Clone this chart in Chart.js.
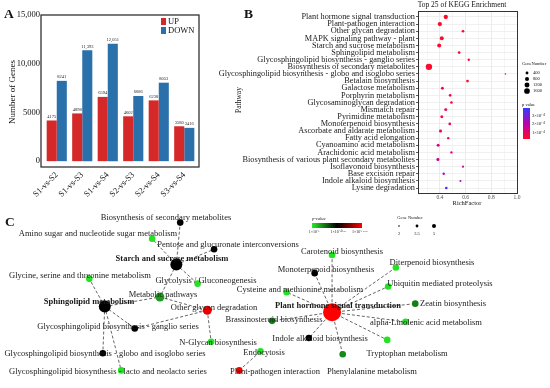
<!DOCTYPE html>
<html>
<head>
<meta charset="utf-8">
<script src="https://cdn.jsdelivr.net/npm/chart.js@4.4.1/dist/chart.umd.min.js"></script>
<style>
  html, body { margin: 0; padding: 0; background: #fff; }
  #wrap { position: relative; width: 550px; height: 388px; overflow: hidden; }
  canvas { position: absolute; left: 0; top: 0; }
</style>
</head>
<body>
<div id="wrap">
  <canvas id="chartC" width="550" height="388"></canvas>
  <canvas id="chartA" width="550" height="388"></canvas>
  <canvas id="chartB" width="550" height="388"></canvas>
</div>
<script>
// ---------- Panel A data ----------
const comparisons = ['S1-vs-S2', 'S1-vs-S3', 'S1-vs-S4', 'S2-vs-S3', 'S2-vs-S4', 'S3-vs-S4'];
const upGenes = [4175, 4898, 6594, 4602, 6238, 3580];
const downGenes = [8241, 11393, 12051, 6686, 8053, 3416];
const geneTicks = [0, 5000, 10000, 15000];

// ---------- Panel B data ----------
const pathways = [
  'Plant hormone signal transduction',
  'Plant-pathogen interaction',
  'Other glycan degradation',
  'MAPK signaling pathway - plant',
  'Starch and sucrose metabolism',
  'Sphingolipid metabolism',
  'Glycosphingolipid biosynthesis - ganglio series',
  'Biosynthesis of secondary metabolites',
  'Glycosphingolipid biosynthesis - globo and isoglobo series',
  'Betalain biosynthesis',
  'Galactose metabolism',
  'Porphyrin metabolism',
  'Glycosaminoglycan degradation',
  'Mismatch repair',
  'Pyrimidine metabolism',
  'Monoterpenoid biosynthesis',
  'Ascorbate and aldarate metabolism',
  'Fatty acid elongation',
  'Cyanoamino acid metabolism',
  'Arachidonic acid metabolism',
  'Biosynthesis of various plant secondary metabolites',
  'Isoflavonoid biosynthesis',
  'Base excision repair',
  'Indole alkaloid biosynthesis',
  'Lysine degradation'
];
const richFactor = [0.446, 0.40, 0.58, 0.415, 0.395, 0.55, 0.625, 0.315, 0.91, 0.615, 0.42, 0.48, 0.49,
  0.446, 0.415, 0.477, 0.405, 0.465, 0.387, 0.49, 0.385, 0.58, 0.43, 0.56, 0.45];
const geneNumber = [900, 900, 350, 780, 780, 350, 270, 2000, 135, 350, 440, 350, 350,
  440, 440, 350, 440, 270, 440, 270, 440, 200, 270, 200, 350];
const pValue = [0.3, 0.3, 0.35, 0.35, 0.35, 0.4, 0.45, 0.3, 0.5, 0.5, 0.55, 0.6, 0.5,
  0.75, 0.7, 1.05, 1.0, 1.2, 1.35, 1.35, 1.7, 1.9, 2.2, 2.4, 3.6]; // x 1e-4
const richTicks = [0.3, 0.4, 0.5, 0.6, 0.7, 0.8, 0.9, 1.0];
const geneLegend = [400, 800, 1200, 1600];

// ---------- Panel C data ----------
const nodeNames = [
  'Biosynthesis of secondary metabolites',
  'Amino sugar and nucleotide sugar metabolism',
  'Pentose and glucuronate interconversions',
  'Starch and sucrose metabolism',
  'Glycine, serine and threonine metabolism',
  'Glycolysis / Gluconeogenesis',
  'Metabolic pathways',
  'Sphingolipid metabolism',
  'Other glycan degradation',
  'Glycosphingolipid biosynthesis - ganglio series',
  'N-Glycan biosynthesis',
  'Glycosphingolipid biosynthesis - globo and isoglobo series',
  'Glycosphingolipid biosynthesis - lacto and neolacto series',
  'Endocytosis',
  'Plant-pathogen interaction',
  'Brassinosteroid biosynthesis',
  'Plant hormone signal transduction',
  'Carotenoid biosynthesis',
  'Monoterpenoid biosynthesis',
  'Cysteine and methionine metabolism',
  'Diterpenoid biosynthesis',
  'Ubiquitin mediated proteolysis',
  'Zeatin biosynthesis',
  'alpha-Linolenic acid metabolism',
  'Indole alkaloid biosynthesis',
  'Tryptophan metabolism',
  'Phenylalanine metabolism'
];
const nodeLogP = [10.33, 6.2, 10.33, 10.33, 6.2, 6.2, 7.4, 10.33, 14.3, 10.33, 6.2, 10.33, 6.2,
  6.2, 14.5, 8.0, 14.66, 6.2, 10.33, 6.2, 6.2, 6.2, 8.0, 6.2, 10.33, 6.2, 7.8]; // -log10 p
const nodeGenes = [2.2, 2.2, 2.2, 4, 2.2, 2.2, 3, 4, 3, 2.2, 2.2, 2.2, 2.2,
  2.2, 2.2, 2.2, 6, 2.2, 2.2, 2.2, 2.2, 2.2, 2.2, 2.2, 2.2, 2.2, 2.2];
const hubNodes = [3, 7, 16];
const edges = [[3, 0], [3, 1], [3, 2], [3, 5], [3, 6], [7, 6], [7, 4], [7, 9], [7, 11], [7, 12],
  [6, 8], [8, 9], [8, 10], [14, 13], [16, 15], [16, 17], [16, 18], [16, 19], [16, 20], [16, 21],
  [16, 22], [16, 23], [16, 24], [16, 25], [16, 26]];
// network layout (page coordinates)
const nodeX = [177, 148, 212, 173, 83, 195, 156, 99, 205, 130, 209, 97, 116, 260, 238, 272, 334, 334, 316, 287, 400, 392, 420, 410, 310, 391, 345];
const nodeY = [224, 241, 252, 268, 283, 288, 302, 312, 316, 335, 349, 361, 379, 359, 379, 327, 318, 258, 277, 297, 271, 291, 309, 328, 345, 347, 362];
const labelX = [166, 98, 228, 172, 80, 206, 163, 89, 214, 118, 218, 105, 108, 264, 275, 274, 338, 342, 326, 300, 432, 440, 453, 426, 320, 407, 372];
const labelY = [218, 234, 245, 259, 276, 281, 295, 302, 308, 327, 343, 354, 372, 353, 372, 320, 306, 252, 270, 290, 263, 284, 304, 323, 339, 354, 372];

// ---------- helpers ----------
const SERIF = '"Liberation Serif", "Times New Roman", serif';
const RED = '#d52828';
const BLUE = '#2a70ab';

function mix(a, b, t) {
  return a.map((v, i) => Math.round(v + (b[i] - v) * t));
}
function rgb(c) { return `rgb(${c[0]},${c[1]},${c[2]})`; }

// red -> purple -> blue for the KEGG p value
const pLow = [255, 10, 40], pMid = [185, 0, 175], pHigh = [50, 60, 255];
function pColor(p) {
  let t = (p - 0.25) / (3.9 - 0.25);
  t = Math.max(0, Math.min(1, t));
  return t < 0.5 ? rgb(mix(pLow, pMid, t * 2)) : rgb(mix(pMid, pHigh, (t - 0.5) * 2));
}
function bubbleRadius(n) { return Math.sqrt(n) / 14; }

// green -> black -> red for the network p value
const nGreen = [40, 235, 40], nBlack = [0, 0, 0], nRed = [255, 0, 0];
function nodeColor(e) {
  let t = (e - 6) / (14.66 - 6);
  t = Math.max(0, Math.min(1, t));
  return t < 0.5 ? rgb(mix(nGreen, nBlack, t * 2)) : rgb(mix(nBlack, nRed, (t - 0.5) * 2));
}
function nodeRadius(g) { return g * 1.5; }

function fmtGenes(v) { return v >= 10000 ? v.toLocaleString('en-US') : String(v); }

// ---------- Panel A ----------
const panelA = {
  id: 'panelA',
  afterDatasetsDraw(chart) {
    const ctx = chart.ctx;
    ctx.save();
    // value labels
    ctx.font = '4.5px ' + SERIF;
    ctx.fillStyle = '#222';
    ctx.textAlign = 'center';
    ctx.textBaseline = 'bottom';
    chart.data.datasets.forEach((ds, di) => {
      chart.getDatasetMeta(di).data.forEach((bar, i) => {
        ctx.fillText(fmtGenes(ds.data[i]), bar.x, bar.y - 1.5);
      });
    });
    // frame
    ctx.strokeStyle = '#222';
    ctx.lineWidth = 1.2;
    ctx.strokeRect(41, 15, 158, 152);
    // legend
    ctx.fillStyle = RED;
    ctx.fillRect(161, 18, 5, 7);
    ctx.fillStyle = BLUE;
    ctx.fillRect(161, 27, 5, 7);
    ctx.fillStyle = '#111';
    ctx.font = '8.5px ' + SERIF;
    ctx.textAlign = 'left';
    ctx.textBaseline = 'middle';
    ctx.fillText('UP', 168, 21.5);
    ctx.fillText('DOWN', 168, 30.5);
    // axis title
    ctx.save();
    ctx.translate(13, 92);
    ctx.rotate(-Math.PI / 2);
    ctx.textAlign = 'center';
    ctx.font = '9px ' + SERIF;
    ctx.fillText('Number of Genes', 0, 0);
    ctx.restore();
    // panel letter
    ctx.font = 'bold 13.5px ' + SERIF;
    ctx.textBaseline = 'alphabetic';
    ctx.fillText('A', 4, 17.5);
    ctx.restore();
  }
};

new Chart(document.getElementById('chartA'), {
  type: 'bar',
  data: {
    labels: comparisons,
    datasets: [
      { label: 'UP', data: upGenes, backgroundColor: RED, categoryPercentage: 0.79, barPercentage: 1 },
      { label: 'DOWN', data: downGenes, backgroundColor: BLUE, categoryPercentage: 0.79, barPercentage: 1 }
    ]
  },
  options: {
    responsive: false,
    animation: false,
    events: [],
    layout: { padding: { left: 4, top: 15, right: 353, bottom: 188 } },
    plugins: { legend: { display: false }, tooltip: { enabled: false } },
    scales: {
      x: {
        grid: { display: false, drawTicks: false },
        border: { display: false },
        ticks: { font: { family: SERIF, size: 8.5 }, color: '#111', maxRotation: 45, minRotation: 45, autoSkip: false, padding: 3 },
        afterFit(s) { s.height = 33; }
      },
      y: {
        min: -600,
        max: 15000,
        afterBuildTicks(s) { s.ticks = geneTicks.map(v => ({ value: v })); },
        grid: { display: false, drawTicks: false },
        border: { display: false },
        ticks: { font: { family: SERIF, size: 8.5 }, color: '#111', padding: 4, callback: v => fmtGenes(v) },
        afterFit(s) { s.width = 40; }
      }
    }
  },
  plugins: [panelA]
});

// ---------- Panel B ----------
const panelB = {
  id: 'panelB',
  afterDatasetsDraw(chart) {
    const ctx = chart.ctx;
    ctx.save();
    ctx.strokeStyle = '#333';
    ctx.lineWidth = 1;
    ctx.strokeRect(418.5, 11.5, 99, 182);
    ctx.fillStyle = '#111';
    ctx.textAlign = 'center';
    ctx.textBaseline = 'middle';
    ctx.font = '7.5px ' + SERIF;
    ctx.fillText('Top 25 of KEGG Enrichment', 462, 5.5);
    ctx.font = '6.5px ' + SERIF;
    ctx.fillText('RichFactor', 467, 203);
    ctx.save();
    ctx.translate(239, 100);
    ctx.rotate(-Math.PI / 2);
    ctx.font = '7.5px ' + SERIF;
    ctx.fillText('Pathway', 0, 0);
    ctx.restore();
    // gene number legend
    ctx.textAlign = 'left';
    ctx.font = '4.5px ' + SERIF;
    ctx.fillText('GeneNumber', 522, 64);
    geneLegend.forEach((g, i) => {
      const y = 73 + i * 6;
      ctx.fillStyle = '#000';
      ctx.beginPath();
      ctx.arc(527, y, bubbleRadius(g), 0, Math.PI * 2);
      ctx.fill();
      ctx.fillStyle = '#111';
      ctx.fillText(String(g), 533, y);
    });
    // p value legend
    ctx.fillText('p value', 522, 105);
    const grad = ctx.createLinearGradient(0, 108, 0, 139);
    grad.addColorStop(0, rgb(pHigh));
    grad.addColorStop(0.5, rgb(pMid));
    grad.addColorStop(1, rgb(pLow));
    ctx.fillStyle = grad;
    ctx.fillRect(523, 108, 7, 31);
    ctx.fillStyle = '#111';
    [[3, 115.6], [2, 124.1], [1, 132.6]].forEach(([v, y]) => {
      ctx.fillText(v + '\u00d710\u207b\u2074', 532, y);
    });
    // panel letter
    ctx.font = 'bold 13.5px ' + SERIF;
    ctx.textBaseline = 'alphabetic';
    ctx.fillText('B', 244, 17.5);
    ctx.restore();
  }
};

new Chart(document.getElementById('chartB'), {
  type: 'bubble',
  data: {
    datasets: [{
      data: pathways.map((p, i) => ({ x: richFactor[i], y: i, r: bubbleRadius(geneNumber[i]) })),
      backgroundColor: pValue.map(pColor),
      borderWidth: 0
    }]
  },
  options: {
    responsive: false,
    animation: false,
    events: [],
    layout: { padding: { left: 218, top: 11, right: 33, bottom: 183 } },
    plugins: { legend: { display: false }, tooltip: { enabled: false } },
    scales: {
      x: {
        type: 'linear',
        min: 0.23,
        max: 1.0,
        afterBuildTicks(s) { s.ticks = richTicks.map(v => ({ value: v })); },
        grid: {
          color: ctx => (Math.round(ctx.tick.value * 10) % 2 === 0 ? '#e6e6e6' : '#f3f3f3'),
          lineWidth: 0.8,
          tickLength: 1,
          tickColor: '#333'
        },
        border: { display: false },
        ticks: {
          font: { family: SERIF, size: 5.5 },
          color: '#4d4d4d',
          padding: 0,
          maxRotation: 0,
          autoSkip: false,
          callback: v => (Math.round(v * 10) % 2 === 0 ? v.toFixed(1) : '')
        },
        afterFit(s) { s.height = 12; }
      },
      y: {
        type: 'linear',
        reverse: true,
        min: -0.84,
        max: 24.7,
        afterBuildTicks(s) { s.ticks = pathways.map((p, i) => ({ value: i })); },
        grid: { color: '#ececec', lineWidth: 0.8, tickLength: 2, tickColor: '#333' },
        border: { display: false },
        ticks: {
          font: { family: SERIF, size: 8.3 },
          color: '#1a1a1a',
          padding: 1,
          autoSkip: false,
          callback: v => pathways[v]
        },
        afterFit(s) { s.width = 200; }
      }
    }
  },
  plugins: [panelB]
});

// ---------- Panel C ----------
const panelC = {
  id: 'panelC',
  afterDatasetsDraw(chart) {
    const ctx = chart.ctx;
    ctx.save();
    ctx.fillStyle = '#1a1a1a';
    ctx.textAlign = 'center';
    ctx.textBaseline = 'middle';
    nodeNames.forEach((name, i) => {
      ctx.font = (hubNodes.includes(i) ? 'bold ' : '') + '8.5px ' + SERIF;
      ctx.fillText(name, labelX[i], labelY[i]);
    });
    // p-value legend
    ctx.font = 'italic 4.5px ' + SERIF;
    ctx.textAlign = 'left';
    ctx.fillText('p-value', 312, 219);
    const grad = ctx.createLinearGradient(312, 0, 362, 0);
    grad.addColorStop(0, rgb(nGreen));
    grad.addColorStop(0.5, rgb(nBlack));
    grad.addColorStop(1, rgb(nRed));
    ctx.fillStyle = grad;
    ctx.fillRect(312, 223, 50, 5);
    ctx.fillStyle = '#1a1a1a';
    ctx.font = '4px ' + SERIF;
    ctx.textAlign = 'center';
    ctx.fillText('1\u00d710\u207b\u2076', 314, 232);
    ctx.fillText('1\u00d710\u207b\u00b9\u2070\u00b7\u00b3\u00b3', 338, 232);
    ctx.fillText('1\u00d710\u207b\u00b9\u2074\u00b7\u2076\u2076', 360, 232);
    // gene number legend
    ctx.font = '4.5px ' + SERIF;
    ctx.fillText('Gene Number', 410, 218);
    [[2, 399, 0.8], [3.5, 417, 1.4], [5, 434, 2]].forEach(([v, x, r]) => {
      ctx.fillStyle = '#000';
      ctx.beginPath();
      ctx.arc(x, 226, r, 0, Math.PI * 2);
      ctx.fill();
      ctx.fillStyle = '#1a1a1a';
      ctx.fillText(String(v), x, 234);
    });
    // panel letter
    ctx.font = 'bold 13.5px ' + SERIF;
    ctx.textAlign = 'left';
    ctx.textBaseline = 'alphabetic';
    ctx.fillText('C', 5, 225.5);
    ctx.restore();
  }
};

const nodeData = nodeNames.map((n, i) => ({ x: nodeX[i], y: nodeY[i] }));
const edgeSets = edges.map(([a, b]) => ({
  type: 'scatter',
  data: [nodeData[a], nodeData[b]],
  showLine: true,
  pointRadius: 0,
  borderColor: '#555',
  borderWidth: 0.9,
  borderDash: [3, 2]
}));

new Chart(document.getElementById('chartC'), {
  type: 'scatter',
  data: {
    datasets: [{
      data: nodeData,
      pointRadius: nodeGenes.map(nodeRadius),
      pointBackgroundColor: nodeLogP.map(nodeColor),
      pointBorderWidth: 0
    }].concat(edgeSets)
  },
  options: {
    responsive: false,
    animation: false,
    events: [],
    layout: { padding: 0 },
    plugins: { legend: { display: false }, tooltip: { enabled: false } },
    scales: {
      x: { type: 'linear', min: 0, max: 550, display: false },
      y: { type: 'linear', min: 0, max: 388, reverse: true, display: false }
    }
  },
  plugins: [panelC]
});
</script>
</body>
</html>
